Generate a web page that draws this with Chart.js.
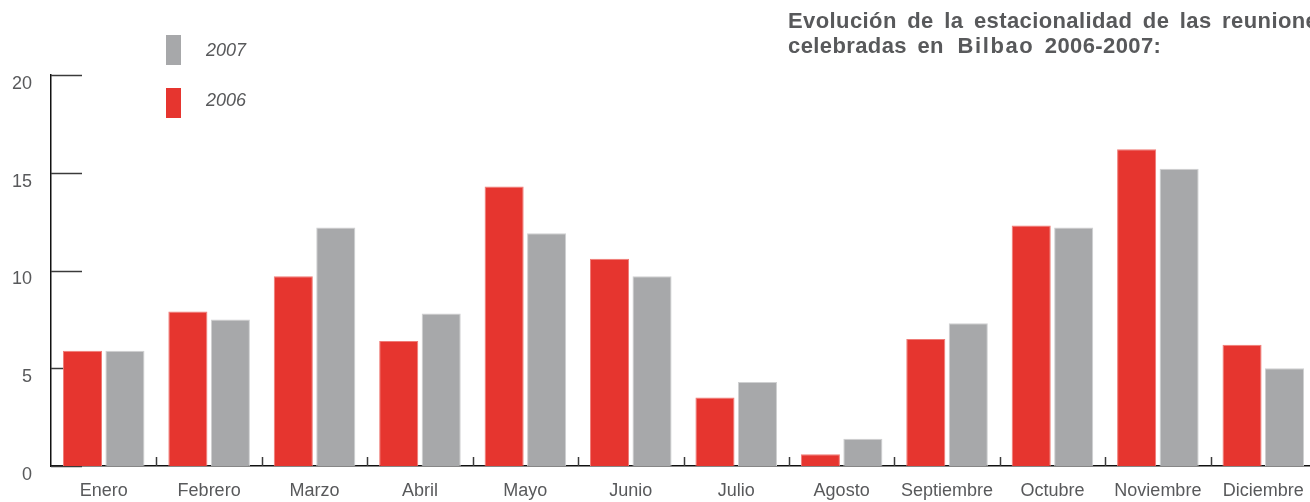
<!DOCTYPE html>
<html>
<head>
<meta charset="utf-8">
<script src="https://cdn.jsdelivr.net/npm/chart.js@4/dist/chart.umd.min.js"></script>
<style>
    html, body { margin: 0; padding: 0; background: #fff; overflow: hidden; }
    #wrap { position: relative; width: 1310px; height: 502px; overflow: hidden; }
    #mycanvas { position: absolute; left: 0; top: 0; }
    .title { position: absolute; left: 788px; top: 8px; white-space: nowrap;
        font: bold 22px "Liberation Sans", Arial, sans-serif; color: #58595b;
        letter-spacing: 0.4px; word-spacing: 4px; line-height: 25px; }
    .title .wide { letter-spacing: 1.6px; margin-left: 3px; }
    .key { position: absolute; left: 166px; width: 15px; height: 30px; }
    .keytxt { position: absolute; left: 206px; font: italic 18px "Liberation Sans", Arial, sans-serif;
        color: #58595b; line-height: 20px; }
</style>
</head>
<body>
<div id="wrap">
    <canvas id="mycanvas" width="1320" height="502"></canvas>
    <div class="title">Evolución de la estacionalidad de las reuniones<br>celebradas en <span class="wide">Bilbao</span> 2006-2007:</div>
    <div class="key" style="top:35px;background:#a7a8aa"></div>
    <div class="keytxt" style="top:40px">2007</div>
    <div class="key" style="top:88px;background:#e6352f"></div>
    <div class="keytxt" style="top:90px">2006</div>
</div>
<script>
var months = ['Enero', 'Febrero', 'Marzo', 'Abril', 'Mayo', 'Junio', 'Julio',
    'Agosto', 'Septiembre', 'Octubre', 'Noviembre', 'Diciembre'];
var values2006 = [5.9, 7.9, 9.7, 6.4, 14.3, 10.6, 3.5, 0.6, 6.5, 12.3, 16.2, 6.2];
var values2007 = [5.9, 7.5, 12.2, 7.8, 11.9, 9.7, 4.3, 1.4, 7.3, 12.2, 15.2, 5.0];
var yTicks = [0, 5, 10, 15, 20];

// ticks drawn inside the plot: rightward on y, upward at category edges on x
var innerTicks = {
    id: 'innerTicks',
    beforeDatasetsDraw: function (chart) {
        var ctx = chart.ctx;
        var x = chart.scales.x, y = chart.scales.y;
        ctx.save();
        ctx.strokeStyle = '#3a3a3a';
        ctx.lineWidth = 1.5;
        yTicks.forEach(function (v) {
            var py = Math.round(y.getPixelForValue(v)) + 0.5;
            ctx.beginPath();
            ctx.moveTo(x.left, py);
            ctx.lineTo(x.left + 31, py);
            ctx.stroke();
        });
        var step = (x.right - x.left) / months.length;
        for (var i = 1; i <= months.length; i++) {
            var px = Math.round(x.left + step * i) + 0.5;
            ctx.beginPath();
            ctx.moveTo(px, y.bottom);
            ctx.lineTo(px, y.bottom - 9);
            ctx.stroke();
        }
        ctx.restore();
    }
};

var chartdata = {
    labels: months,
    datasets: [
        {
            label: '2006',
            backgroundColor: '#e6352f',
            borderColor: '#ef7b76',
            borderWidth: 1,
            data: values2006
        },
        {
            label: '2007',
            backgroundColor: '#a7a8aa',
            borderColor: '#cfd0d1',
            borderWidth: 1,
            data: values2007
        }
    ]
};

var barGraph = new Chart(document.getElementById('mycanvas'), {
    type: 'bar',
    data: chartdata,
    plugins: [innerTicks],
    options: {
        responsive: false,
        animation: false,
        events: [],
        layout: { padding: { top: 75, left: 0, right: 4, bottom: 0 } },
        categoryPercentage: 0.806,
        barPercentage: 0.92,
        plugins: {
            legend: { display: false },
            tooltip: { enabled: false }
        },
        scales: {
            x: {
                grid: { display: false, drawTicks: false },
                border: { display: true, color: '#111', width: 1.5 },
                ticks: {
                    padding: 14,
                    color: '#58595b',
                    font: { family: '"Liberation Sans", Arial, sans-serif', size: 18 }
                },
                afterFit: function (scale) { scale.height = 36; }
            },
            y: {
                min: 0,
                max: 20,
                afterBuildTicks: function (scale) {
                    scale.ticks = yTicks.map(function (v) { return { value: v }; });
                },
                grid: { display: false, drawTicks: false },
                border: { display: true, color: '#111', width: 1.5 },
                ticks: {
                    padding: 19,
                    labelOffset: 9,
                    color: '#58595b',
                    font: { family: '"Liberation Sans", Arial, sans-serif', size: 18 }
                },
                afterFit: function (scale) { scale.width = 51; }
            }
        }
    }
});
</script>
</body>
</html>
